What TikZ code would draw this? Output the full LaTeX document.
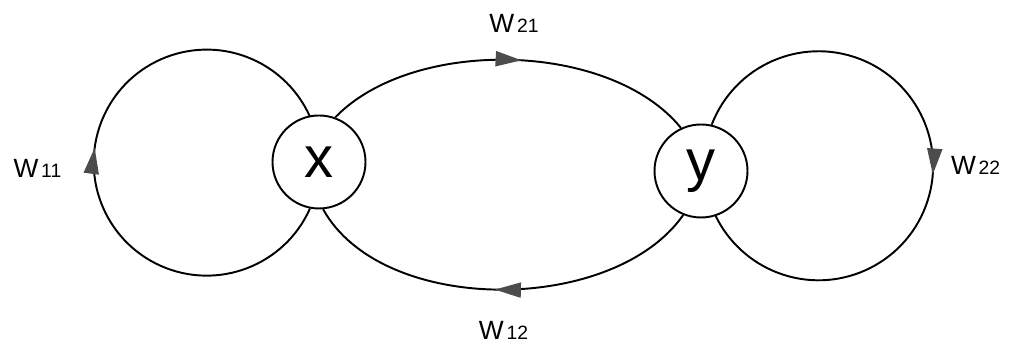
\documentclass[tikz,border=0pt]{standalone}
\usepackage{fontspec}
\setmainfont{Liberation Sans}
\usetikzlibrary{arrows.meta,decorations.markings}

\newcommand{\pesoind}[1]{\hspace{1.5pt}{\fontsize{11}{11}\selectfont #1}}

\begin{document}
\begin{tikzpicture}[
    every node/.style={font=\fontsize{15}{15}\selectfont},
    estado/.style={draw, circle, line width=1.1pt, fill=white, inner sep=0pt,
      minimum size=1.86cm, font=\fontsize{33}{33}\selectfont},
    ligacao/.style={line width=1.1pt},
    seta/.style={postaction={decorate}, decoration={markings,
      mark=at position #1 with {\arrow{Triangle[length=5.2mm, width=3mm, color=black!70]}}}}
  ]
  \useasboundingbox (0,0) rectangle (20.18,6.94);

  % Estados
  \node[estado] (x) at (6.38, 3.70) {x};
  \node[estado] (y) at (14.02, 3.52) {y};

  % Ligacoes entre x e y
  \draw[ligacao, seta=0.53] (x.70) .. controls +(46:2.24) and +(129:2.24) .. (y.115);
  \draw[ligacao, seta=0.515] (y.-112) .. controls +(-125:2.44) and +(-61:2.44) .. (x.-85);

  % Lacos
  \draw[ligacao, seta=0.524] (x.-101) arc[start angle=-24, end angle=-336, radius=2.26];
  \draw[ligacao, seta=0.522] (y.77) arc[start angle=159, end angle=-154, radius=2.29];

  % Pesos
  \node (w11) at (0.75, 3.58) {W\pesoind{11}};
  \node (w22) at (19.51, 3.64) {W\pesoind{22}};
  \node (w21) at (10.28, 6.48) {W\pesoind{21}};
  \node (w12) at (10.07, 0.34) {W\pesoind{12}};

\end{tikzpicture}
\end{document}
